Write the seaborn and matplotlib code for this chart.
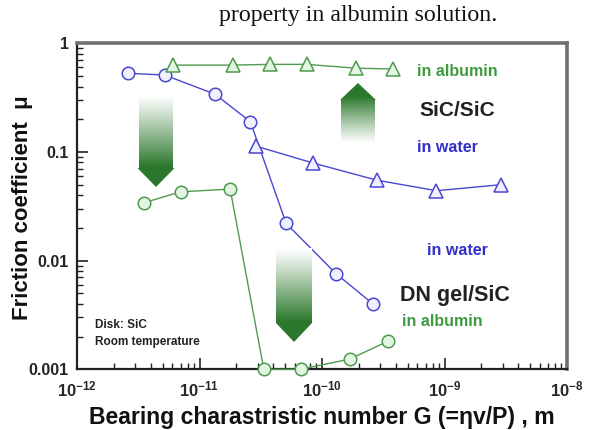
import numpy as np
import pandas as pd
import matplotlib
matplotlib.use("Agg")
import matplotlib.pyplot as plt
import seaborn as sns
from matplotlib.patches import Polygon
from matplotlib.ticker import FixedLocator, FixedFormatter, LogLocator, NullFormatter

# ---------------- data ----------------
gel_water_G = [2.6e-12, 5.2e-12, 1.34e-11, 2.6e-11, 5.1e-11, 1.3e-10, 2.6e-10]
gel_water_mu = [0.53, 0.51, 0.34, 0.19, 0.022, 0.0076, 0.0040]

sic_water_G = [2.9e-11, 8.5e-11, 2.8e-10, 8.6e-10, 2.9e-9]
sic_water_mu = [0.113, 0.079, 0.055, 0.044, 0.050]

sic_alb_G = [6.1e-12, 1.87e-11, 3.75e-11, 7.5e-11, 1.9e-10, 3.8e-10]
sic_alb_mu = [0.63, 0.63, 0.64, 0.64, 0.59, 0.58]

gel_alb_G = [3.5e-12, 7.0e-12, 1.78e-11, 3.35e-11, 6.7e-11, 1.68e-10, 3.45e-10]
gel_alb_mu = [0.034, 0.043, 0.0455, 0.001, 0.001, 0.00124, 0.00181]

y_ticks = [0.001, 0.01, 0.1, 1]
y_ticklabels = ["0.001", "0.01", "0.1", "1"]
x_ticks = [1e-12, 1e-11, 1e-10, 1e-9, 1e-8]
x_ticklabels = [r"$\mathbf{10^{-12}}$", r"$\mathbf{10^{-11}}$", r"$\mathbf{10^{-10}}$",
                r"$\mathbf{10^{-9}}$", r"$\mathbf{10^{-8}}$"]

# ---------------- style ----------------
sns.set_style("white")
plt.rcParams["font.family"] = ["Liberation Sans", "DejaVu Sans"]
plt.rcParams["mathtext.fontset"] = "custom"
plt.rcParams["mathtext.rm"] = "Liberation Sans"
plt.rcParams["mathtext.bf"] = "Liberation Sans:bold"

BLUE = "#4848d0"
BLUE_FACE = "#f0f0ff"
GREEN = "#4f9a4f"
GREEN_FACE = "#e2f4e2"
TXT_GREEN = "#3f9a3f"
TXT_BLUE = "#3030c8"

fig = plt.figure(figsize=(5.9, 4.3), dpi=100)
ax = fig.add_axes([77/590, 1-369.3/430, 490/590, 326/430])

series = [
    (gel_water_G, gel_water_mu, "o", BLUE, BLUE_FACE),
    (sic_water_G, sic_water_mu, "^", BLUE, BLUE_FACE),
    (sic_alb_G, sic_alb_mu, "^", GREEN, GREEN_FACE),
    (gel_alb_G, gel_alb_mu, "o", GREEN, GREEN_FACE),
]
for G, mu, mk, col, face in series:
    df = pd.DataFrame({"G": G, "mu": mu})
    sns.lineplot(data=df, x="G", y="mu", ax=ax, estimator=None, sort=False,
                 color=col, linewidth=1.0, marker=mk, markersize=9 if mk == "o" else 10,
                 markerfacecolor=face, markeredgecolor=col, markeredgewidth=1.1,
                 clip_on=False, zorder=5)

ax.set_xscale("log")
ax.set_yscale("log")
ax.set_xlim(1e-12, 1e-8)
ax.set_ylim(1e-3, 1)

ax.xaxis.set_major_locator(FixedLocator(x_ticks))
ax.xaxis.set_major_formatter(FixedFormatter(x_ticklabels))
ax.yaxis.set_major_locator(FixedLocator(y_ticks))
ax.yaxis.set_major_formatter(FixedFormatter(y_ticklabels))
ax.xaxis.set_minor_locator(LogLocator(base=10, subs=np.arange(2, 10), numticks=20))
ax.yaxis.set_minor_locator(LogLocator(base=10, subs=np.arange(2, 10), numticks=20))
ax.xaxis.set_minor_formatter(NullFormatter())
ax.yaxis.set_minor_formatter(NullFormatter())

ax.tick_params(which="major", direction="in", length=8, width=1.2, color="#222222",
               labelsize=11.5, pad=6, bottom=True, left=True, top=False, right=False)
ax.tick_params(which="minor", direction="in", length=4.5, width=1.0, color="#222222",
               bottom=True, left=True, top=False, right=False)
for lab in ax.get_yticklabels():
    lab.set_fontweight("bold")
ax.tick_params(axis="x", labelsize=12, pad=7)

for s in ["left", "bottom"]:
    ax.spines[s].set_color("#222222")
    ax.spines[s].set_linewidth(1.6)
for s in ["top", "right"]:
    ax.spines[s].set_color("#707070")
    ax.spines[s].set_linewidth(2.6)

ax.set_xlabel("Bearing charastristic number G (=\u03b7v/P) , m", fontsize=16.6,
              fontweight="bold", labelpad=5, color="#111111")
ax.set_ylabel("Friction coefficient  \u03bc", fontsize=16, fontweight="bold",
              color="#111111")
ax.yaxis.set_label_coords(-44/490, 0.497)

# ---------------- annotations ----------------
def tx(px):
    return (px - 77) / 490

def ty(py):
    return (369.3 - py) / 326

ax.text(tx(417), ty(71), "in albumin", transform=ax.transAxes, color=TXT_GREEN,
        fontsize=11.5, fontweight="bold", va="center", ha="left")
ax.text(tx(419), ty(111), "SiC/SiC", transform=ax.transAxes, color="#222222",
        fontsize=15, fontweight="bold", va="center", ha="left")
ax.text(tx(417), ty(147), "in water", transform=ax.transAxes, color=TXT_BLUE,
        fontsize=11.5, fontweight="bold", va="center", ha="left")
ax.text(tx(427), ty(250), "in water", transform=ax.transAxes, color=TXT_BLUE,
        fontsize=11.5, fontweight="bold", va="center", ha="left")
ax.text(tx(400), ty(295), "DN gel/SiC", transform=ax.transAxes, color="#222222",
        fontsize=15.5, fontweight="bold", va="center", ha="left")
ax.text(tx(402), ty(321), "in albumin", transform=ax.transAxes, color=TXT_GREEN,
        fontsize=11.5, fontweight="bold", va="center", ha="left")
ax.text(tx(95), ty(325), "Disk: SiC", transform=ax.transAxes, color="#222222",
        fontsize=8.5, fontweight="bold", va="center", ha="left")
ax.text(tx(95), ty(342), "Room temperature", transform=ax.transAxes, color="#222222",
        fontsize=8.5, fontweight="bold", va="center", ha="left")

fig.text(358.5/590, 1-15/430, "property in albumin solution.", family="Liberation Serif",
         fontsize=17.2, ha="center", va="center", color="#111111")


def grad_arrow(cx, y_tail, y_tip, y_base, hw, sw):
    """Gradient arrow placed in pixel coordinates of the figure (annotation only)."""
    x0, x1 = cx - hw, cx + hw
    top, bot = min(y_tail, y_tip), max(y_tail, y_tip)
    iax = ax.inset_axes([tx(x0), ty(bot), (x1 - x0) / 490, (bot - top) / 326])
    iax.set_axis_off()
    iax.set_xlim(0, 1)
    iax.set_ylim(0, 1)
    def lv(py):
        return (bot - py) / (bot - top)
    s = sw / (2 * hw)
    vt, vp, vb = lv(y_tail), lv(y_tip), lv(y_base)
    verts = [(0.5 - s, vt), (0.5 + s, vt), (0.5 + s, vb), (1, vb), (0.5, vp),
             (0, vb), (0.5 - s, vb)]
    poly = Polygon(verts, closed=True, facecolor="none", edgecolor="none")
    iax.add_patch(poly)
    n = 200
    v = np.linspace(0, 1, n)
    t = np.abs(v - vt) / abs(vp - vt)
    w = np.clip(t / 0.78, 0, 1) ** 1.1
    green = np.array([0.17, 0.47, 0.17])
    white = np.array([1.0, 1.0, 1.0])
    cols = white[None, :] * (1 - w[:, None]) + green[None, :] * w[:, None]
    img = np.repeat(cols[:, None, :], 4, axis=1)
    im = iax.imshow(img, extent=[0, 1, 0, 1], origin="lower", aspect="auto")
    im.set_clip_path(poly)


grad_arrow(156, 95, 187, 168, 18.5, 17)
grad_arrow(294, 248, 342, 323, 18, 18)
grad_arrow(358, 143, 83, 100, 18, 17)

fig.savefig("out.png", dpi=100)
